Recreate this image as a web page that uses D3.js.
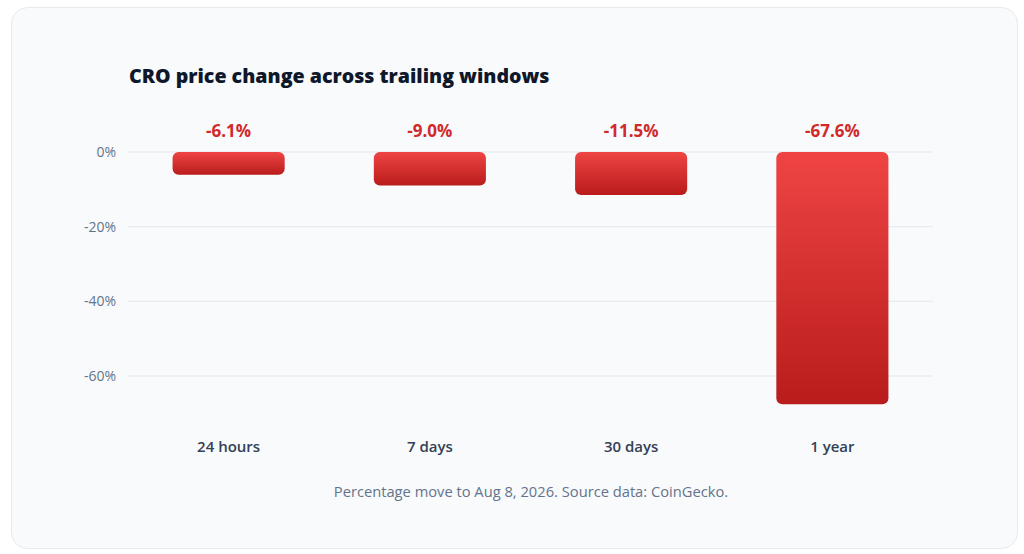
<!DOCTYPE html>
<html>
<head>
<meta charset="utf-8">
<script src="https://cdn.jsdelivr.net/npm/d3@7"></script>
<style>
  html, body { margin: 0; padding: 0; background: #ffffff; }
  svg { display: block; font-family: "Open Sans", "Noto Sans", sans-serif; }
</style>
</head>
<body>
<svg width="1024" height="554"></svg>
<script>
// janelas e variação de preço (%)
const windows = ["24 hours", "7 days", "30 days", "1 year"];
const changes = [-6.1, -9.0, -11.5, -67.6];
const yTicks = [0, -20, -40, -60];

const svg = d3.select("svg");
const width = 1024, height = 554;

// cartão de fundo
svg.append("rect")
  .attr("x", 11.5).attr("y", 7.5)
  .attr("width", 1006).attr("height", 541)
  .attr("rx", 16)
  .attr("fill", "#f8fafc")
  .attr("stroke", "#e6e9ee");

const margin = { top: 152, left: 128, right: 91 };
const innerWidth = width - margin.left - margin.right;

const x = d3.scaleBand()
  .domain(windows)
  .range([margin.left, margin.left + innerWidth])
  .paddingInner(0.443)
  .paddingOuter(0.2215);

const y = d3.scaleLinear()
  .domain([0, -60])
  .range([152, 376]);

// gradiente das barras
const defs = svg.append("defs");
const grad = defs.append("linearGradient")
  .attr("id", "barGrad")
  .attr("x1", 0).attr("y1", 0).attr("x2", 0).attr("y2", 1);
grad.append("stop").attr("offset", "0%").attr("stop-color", "#ef4444");
grad.append("stop").attr("offset", "100%").attr("stop-color", "#b91c1c");

// grade
svg.append("g")
  .selectAll("line")
  .data(yTicks)
  .join("line")
  .attr("x1", margin.left)
  .attr("x2", margin.left + innerWidth)
  .attr("y1", d => y(d))
  .attr("y2", d => y(d))
  .attr("stroke", "#e2e8f0")
  .attr("stroke-width", 1);

// eixo y
svg.append("g")
  .selectAll("text")
  .data(yTicks)
  .join("text")
  .attr("x", 116)
  .attr("y", d => y(d))
  .attr("dy", "0.35em")
  .attr("text-anchor", "end")
  .attr("fill", "#64748b")
  .style("font-size", "14px")
  .text(d => `${d}%`);

// barras
svg.append("g")
  .selectAll("rect")
  .data(changes)
  .join("rect")
  .attr("x", (d, i) => x(windows[i]))
  .attr("y", y(0))
  .attr("width", x.bandwidth())
  .attr("height", d => y(d) - y(0))
  .attr("rx", 6)
  .attr("fill", "url(#barGrad)");

// rótulos de valor
svg.append("g")
  .selectAll("text")
  .data(changes)
  .join("text")
  .attr("x", (d, i) => x(windows[i]) + x.bandwidth() / 2)
  .attr("y", 137)
  .attr("text-anchor", "middle")
  .attr("fill", "#d12a2a")
  .style("font-size", "17px")
  .style("font-weight", 700)
  .text(d => `${d.toFixed(1)}%`);

// categorias
svg.append("g")
  .selectAll("text")
  .data(windows)
  .join("text")
  .attr("x", d => x(d) + x.bandwidth() / 2)
  .attr("y", 452)
  .attr("text-anchor", "middle")
  .attr("fill", "#334155")
  .style("font-size", "15px")
  .style("font-weight", 600)
  .text(d => d);

// título
svg.append("text")
  .attr("x", 129)
  .attr("y", 83)
  .attr("fill", "#0f172a")
  .style("font-size", "19.6px")
  .style("font-weight", 800)
  .text("CRO price change across trailing windows");

// nota
svg.append("text")
  .attr("x", 531)
  .attr("y", 497)
  .attr("text-anchor", "middle")
  .attr("fill", "#64748b")
  .style("font-size", "14.7px")
  .text("Percentage move to Aug 8, 2026. Source data: CoinGecko.");
</script>
</body>
</html>
